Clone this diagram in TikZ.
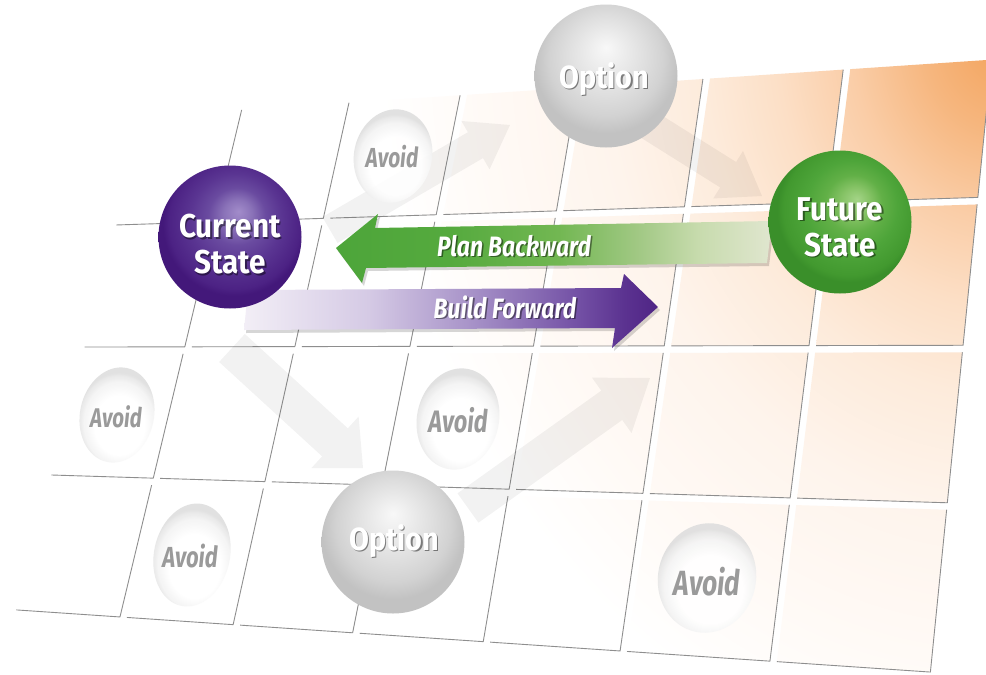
\documentclass[tikz,border=0pt]{standalone}
\usepackage{fontspec}
\setmainfont{Fira Sans}
\newfontfamily\ballfont[FakeStretch=0.9]{Fira Sans}
\newfontfamily\lblfont[FakeStretch=0.82]{Fira Sans}
\newfontfamily\avoidfont[FakeStretch=0.76]{Fira Sans}
\usetikzlibrary{calc,shapes.geometric}

% ---------- colours ----------
\definecolor{peach0}{HTML}{F3A35C}
\definecolor{peach1}{HTML}{F6B67E}
\definecolor{peach2}{HTML}{FACDA7}
\definecolor{peach3}{HTML}{FCDFC6}
\definecolor{peach4}{HTML}{FDEBDB}
\definecolor{peach5}{HTML}{FEF4EC}
\definecolor{peach6}{HTML}{FFFAF6}
\definecolor{tileline}{HTML}{8E8E8E}
\definecolor{avoidgray}{HTML}{9A9A9A}
% purple sphere
\definecolor{purpA}{HTML}{43187A}
\definecolor{purpB}{HTML}{4C2284}
\definecolor{purpM}{HTML}{5A3592}
\definecolor{purpL}{HTML}{6A4BA0}
\definecolor{purpH}{HTML}{8A72B8}
\definecolor{purpC}{HTML}{A28CCA}
% green sphere
\definecolor{grnA}{HTML}{3A8F2A}
\definecolor{grnB}{HTML}{42992F}
\definecolor{grnM}{HTML}{4EA53A}
\definecolor{grnL}{HTML}{62B047}
\definecolor{grnH}{HTML}{86C366}
\definecolor{grnC}{HTML}{A4D487}
% grey sphere
\definecolor{optA}{HTML}{C2C2C2}
\definecolor{optB}{HTML}{D2D2D2}
\definecolor{optM}{HTML}{DEDEDE}
\definecolor{optL}{HTML}{EBEBEB}
\definecolor{optC}{HTML}{F8F8F8}
% egg
\definecolor{eggA}{HTML}{DEDEDE}
\definecolor{eggB}{HTML}{E6E6E6}
\definecolor{eggC}{HTML}{F4F4F4}
% purple bar
\definecolor{pb0}{HTML}{F2EEF6}
\definecolor{pb1}{HTML}{D5CAE5}
\definecolor{pb2}{HTML}{A792C8}
\definecolor{pb3}{HTML}{7452A6}
\definecolor{pb4}{HTML}{5B3290}
\definecolor{pb5}{HTML}{4F2585}
% green bar
\definecolor{gb0}{HTML}{4DA53A}
\definecolor{gb1}{HTML}{55AA3E}
\definecolor{gb2}{HTML}{72B752}
\definecolor{gb3}{HTML}{A3C986}
\definecolor{gb4}{HTML}{C7DBAD}
\definecolor{gb5}{HTML}{E0E6CF}

% ---------- shadings ----------
\pgfdeclareradialshading{peachglow}{\pgfpoint{0bp}{0bp}}{color(0bp)=(peach0); color(3bp)=(peach1); color(6bp)=(peach2); color(9bp)=(peach3); color(12bp)=(peach4); color(16bp)=(peach5); color(21bp)=(peach6); color(25bp)=(white); color(50bp)=(white)}
\pgfdeclareradialshading{purpleball}{\pgfpoint{3bp}{9bp}}{color(0bp)=(purpC); color(5bp)=(purpH); color(10bp)=(purpL); color(16bp)=(purpM); color(23bp)=(purpB); color(25bp)=(purpA); color(50bp)=(purpA)}
\pgfdeclareradialshading{greenball}{\pgfpoint{6bp}{8bp}}{color(0bp)=(grnC); color(5bp)=(grnH); color(10bp)=(grnL); color(16bp)=(grnM); color(23bp)=(grnB); color(25bp)=(grnA); color(50bp)=(grnA)}
\pgfdeclareradialshading{optionball}{\pgfpoint{0bp}{10bp}}{color(0bp)=(optC); color(7bp)=(optL); color(14bp)=(optM); color(20bp)=(optB); color(25bp)=(optA); color(50bp)=(optA)}
\pgfdeclareradialshading{eggshade}{\pgfpoint{2bp}{-9bp}}{color(0bp)=(white); color(15bp)=(white); color(21bp)=(eggC); color(24bp)=(eggB); color(25bp)=(eggA); color(50bp)=(eggA)}
\pgfdeclarehorizontalshading{purplebar}{100bp}{color(0bp)=(pb0); color(25bp)=(pb0); color(40bp)=(pb1); color(52.5bp)=(pb2); color(65bp)=(pb3); color(71bp)=(pb4); color(75bp)=(pb5); color(100bp)=(pb5)}
\pgfdeclarehorizontalshading{greenbar}{100bp}{color(0bp)=(gb0); color(25bp)=(gb0); color(38bp)=(gb1); color(50.5bp)=(gb2); color(60bp)=(gb3); color(66.5bp)=(gb4); color(75bp)=(gb5); color(100bp)=(gb5)}

% ---------- perspective grid ----------
% row line k:    y = A_k + B_k x
% column line k: x = P_k + Q_k (y - 346)
\def\rowA{{126.1,228.7,347.2,473.4,608.8}}
\def\rowB{{-0.067,-0.032,-0.002,0.031,0.068}}
\def\colP{{85,185,295,410,533.5,664.3,809,963}}
\def\colQ{{-0.26,-0.24,-0.222,-0.2,-0.17,-0.145,-0.124,-0.1}}

% #1 name, #2 row line, #3 row shift, #4 column line, #5 column shift
\newcommand\gridpt[5]{%
  \pgfmathsetmacro\grA{\rowA[#2]}%
  \pgfmathsetmacro\grA{\grA+#3}%
  \pgfmathsetmacro\grB{\rowB[#2]}%
  \pgfmathsetmacro\grP{\colP[#4]}%
  \pgfmathsetmacro\grP{\grP+#5}%
  \pgfmathsetmacro\grQ{\colQ[#4]}%
  \pgfmathsetmacro\grX{(\grP+(\grQ)*(\grA-346))/(1-(\grQ)*(\grB))}%
  \pgfmathsetmacro\grY{\grA+(\grB)*\grX}%
  \coordinate (#1) at (\grX,\grY);%
}

% pale arrow: #1 tail, #2 tip, #3 shaft half width, #4 head half width, #5 head length, #6 head base name
\newcommand\ghostarrow[6]{%
  \coordinate (#6) at ($(#2)!#5!(#1)$);
  \fill[ghost] ($(#1)!#3!90:(#2)$) -- ($(#6)!#3!90:(#2)$) -- ($(#6)!#4!90:(#2)$) -- (#2)
    -- ($(#6)!#4!-90:(#2)$) -- ($(#6)!#3!-90:(#2)$) -- ($(#1)!#3!-90:(#2)$) -- cycle;
}

% text with a drop shadow: #1 name, #2 x, #3 y, #4 style, #5 text
\newcommand\shtext[5]{%
  \node[#4, text=black, text opacity=0.45] (#1-sh) at (#2+1.6,#3+1.8) {#5};
  \node[#4] (#1) at (#2,#3) {#5};
}

\tikzset{
  tileedge/.style={draw=tileline, line width=0.9pt, line join=round},
  ghost/.style={fill=black, fill opacity=0.05},
  ball/.style={circle, minimum size=143pt, inner sep=0pt, shade, draw=none},
  egg/.style={ellipse, inner sep=0pt, shade, shading=eggshade, draw=none, opacity=0.9},
  balltext/.style={text=white, align=center, inner sep=0pt,
    font=\ballfont\bfseries\fontsize{33}{36}\selectfont},
  optiontext/.style={text=white, inner sep=0pt, anchor=base,
    font=\ballfont\bfseries\fontsize{32}{34}\selectfont},
  arrowtext/.style={text=white, inner sep=0pt, anchor=base,
    font=\lblfont\bfseries\itshape\fontsize{28}{30}\selectfont},
  avoidtext/.style={text=avoidgray, inner sep=0pt, anchor=base,
    font=\avoidfont\bfseries\itshape\fontsize{#1}{#1}\selectfont},
  barshadow/.style={fill=black, fill opacity=0.16},
}

\begin{document}
\begin{tikzpicture}[x=1pt,y=-1pt]
\useasboundingbox (0,0) rectangle (986,675);
\fill[white] (0,0) rectangle (986,675);

% ---- tiles: 4 rows x 7 columns, warm glow towards the upper right ----
\foreach \i in {1,...,4}{
  \foreach \j in {0,...,6}{
    \pgfmathtruncatemacro\ip{\i-1}
    \pgfmathtruncatemacro\jn{\j+1}
    \pgfmathsetmacro\tg{\i==1 ? 0 : 7}
    \pgfmathsetmacro\lg{\j==0 ? 0 : 7}
    \gridpt{tl}{\ip}{\tg}{\j}{\lg}
    \gridpt{tr}{\ip}{\tg}{\jn}{0}
    \gridpt{br}{\i}{0}{\jn}{0}
    \gridpt{bl}{\i}{0}{\j}{\lg}
    \begin{scope}
      \clip (tl) -- (tr) -- (br) -- (bl) -- cycle;
      \shade[shading=peachglow] (380,-700) rectangle (1620,780);
    \end{scope}
    \draw[tileedge] (tr) -- (br) -- (bl);
  }
}

% ---- pale route arrows ----
\coordinate (r1t) at (330,230); \coordinate (r1h) at (510,125);
\coordinate (r2t) at (625,110); \coordinate (r2h) at (762,196);
\coordinate (r3t) at (232,348); \coordinate (r3h) at (363,468);
\coordinate (r4t) at (468,508); \coordinate (r4h) at (650,378);
\ghostarrow{r1t}{r1h}{15pt}{28pt}{40pt}{r1b}
\ghostarrow{r2t}{r2h}{15pt}{28pt}{40pt}{r2b}
\ghostarrow{r3t}{r3h}{19pt}{35pt}{38pt}{r3b}
\ghostarrow{r4t}{r4h}{18pt}{34pt}{47pt}{r4b}

% ---- "Avoid" eggs ----
\node[egg, minimum width=78pt, minimum height=94pt, rotate=-12] (egg1) at (393,156) {};
\node[egg, minimum width=74pt, minimum height=96pt, rotate=-12] (egg2) at (117,415) {};
\node[egg, minimum width=82pt, minimum height=102pt, rotate=-12] (egg3) at (458,419) {};
\node[egg, minimum width=76pt, minimum height=104pt, rotate=-12] (egg4) at (192,555) {};
\node[egg, minimum width=98pt, minimum height=110pt, rotate=-12] (egg5) at (707,578) {};
\node[avoidtext=27.5] (av1) at (392,167) {Avoid};
\node[avoidtext=27] (av2) at (116,427) {Avoid};
\node[avoidtext=31] (av3) at (458,432) {Avoid};
\node[avoidtext=29] (av4) at (190,567) {Avoid};
\node[avoidtext=35] (av5) at (707,595) {Avoid};

% ---- option spheres ----
\node[ball, shading=optionball] (opt1) at (606,76) {};
\node[ball, shading=optionball] (opt2) at (393,542) {};
\shtext{opt1t}{604}{88}{optiontext}{Option}
\shtext{opt2t}{394}{550}{optiontext}{Option}

% ---- Plan Backward (green) ----
\begin{scope}[shift={(2,3)}]
  \fill[barshadow] (336,248) -- (378,214) -- (375,228) -- (772,221) -- (767,263)
    -- (366,268) -- (362,283) -- cycle;
\end{scope}
\shade[shading=greenbar] (336,248) -- (378,214) -- (375,228) -- (772,221) -- (767,263)
    -- (366,268) -- (362,283) -- cycle;
\shtext{plan}{514}{256}{arrowtext}{Plan Backward}

% ---- Build Forward (purple) ----
\begin{scope}[shift={(2,3)}]
  \fill[barshadow] (248,290) -- (621,288) -- (624,274) -- (658,307) -- (612,348)
    -- (615,328) -- (244,330) -- cycle;
\end{scope}
\shade[shading=purplebar] (248,290) -- (621,288) -- (624,274) -- (658,307) -- (612,348)
    -- (615,328) -- (244,330) -- cycle;
\shtext{build}{505}{318}{arrowtext}{Build Forward}

% ---- state spheres ----
\node[ball, shading=purpleball] (cur) at (230,237) {};
\node[ball, shading=greenball] (fut) at (840,222) {};
\shtext{curt}{230}{244.5}{balltext}{Current\\State}
\shtext{futt}{840}{227}{balltext}{Future\\State}
\end{tikzpicture}
\end{document}
